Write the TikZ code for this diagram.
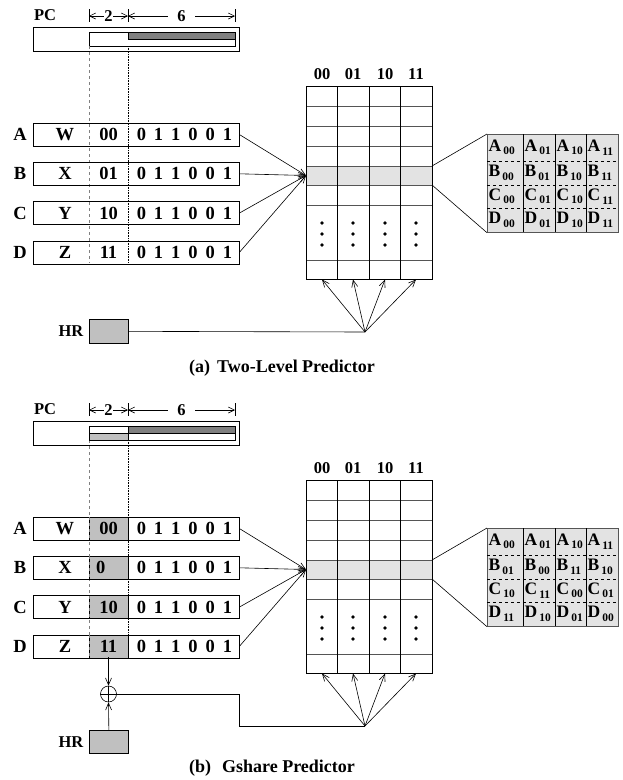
\documentclass[tikz,border=0pt]{standalone}
\usepackage{fontspec}
\setmainfont{Liberation Serif}
\usetikzlibrary{arrows.meta}

\definecolor{darkbar}{HTML}{808080}
\definecolor{midgray}{HTML}{C0C0C0}
\definecolor{lightcell}{HTML}{E3E3E3}
\definecolor{edgegray}{HTML}{555555}

\newcommand{\fsz}[1]{\fontsize{#1}{#1}\selectfont\bfseries}
\newcommand{\bitstr}{0\hskip8pt 1\hskip8pt 1\hskip8pt 0\hskip8pt 0\hskip8pt 1}
\newcommand{\cellent}[2]{{\fsz{17.5}#1}\raisebox{-3.5pt}{\fsz{11.5}\,#2}}

\tikzset{
  lbl/.style={inner sep=0pt, font=\fsz{16.5}},
  big/.style={inner sep=0pt, font=\fsz{18.5}},
  thinln/.style={line width=0.7pt},
  tip/.style={-{Straight Barb[length=7pt,width=6pt]}, line width=0.6pt},
  dimarr/.style={{Straight Barb[length=6pt,width=6pt]}-{Straight Barb[length=6pt,width=6pt]}, line width=0.6pt},
  boxnode/.style={draw, line width=0.7pt, inner sep=0pt, anchor=north west},
}

% parts shared by both predictors: PC, address rows, pattern table
\newcommand{\panelbase}{%
  \node[lbl] (pc) at (45,15) {PC};
  \draw[line width=0.6pt] (89,9) -- (89,22) (128,9) -- (128,22) (235,9) -- (235,22);
  \coordinate (d0) at (89,16); \coordinate (d1) at (128,16); \coordinate (d2) at (235,16);
  \draw[dimarr] (d0) -- node[fill=white, inner sep=0.5pt, font=\fsz{16.5}] (w2) {2} (d1);
  \draw[dimarr] (d1) -- node[fill=white, inner xsep=9pt, inner ysep=1pt, font=\fsz{16.5}] (w6) {6} (d2);
  \node[boxnode, minimum width=206pt, minimum height=24pt] (pcbox) at (33,27) {};
  \draw[line width=0.7pt, fill=white] (89,32) rectangle (235,46);
  \fill[darkbar] (128,32) rectangle (235,39);
  \draw[line width=0.7pt] (128,32) rectangle (235,39);
  % index bit guides
  \draw[dashed, gray, line width=0.7pt] (89,46) -- (89,263);
  \draw[densely dotted, line width=0.6pt] (128,46) -- (128,263);
  % address rows
  \foreach \L/\W/\i in {A/W/0,B/X/1,C/Y/2,D/Z/3}{
    \pgfmathsetmacro\yc{134.5+39.3*\i}
    \node[draw, line width=0.7pt, inner sep=0pt, minimum width=206pt, minimum height=23pt] (row\i) at (136,\yc) {};
    \node[big] (lab\i) at (20,\yc) {\L};
    \node[big] (nm\i) at (65,\yc) {\W};
    \node[big] (bits\i) at (184.5,\yc) {\bitstr};
  }
  % pattern history table
  \fill[lightcell] (306,166) rectangle (432,185);
  \foreach \y in {106,126,146,166,185,205,260}{
    \draw[edgegray, line width=0.7pt] (306,\y) -- (432,\y);
  }
  \foreach \x in {337.5,369,400.5}{
    \draw[line width=0.7pt] (\x,86) -- (\x,279);
  }
  \node[boxnode, minimum width=126pt, minimum height=193pt] (pht) at (306,86) {};
  \foreach \c/\x in {00/322,01/353,10/385,11/416}{
    \node[lbl] (hd\c) at (\x,74) {\c};
    \foreach \y in {223,234,245}{ \fill (\x,\y) circle (1.8pt); }
    \coordinate (col\c) at (\x,279.5);
  }
  \coordinate (tin) at (306,175.5);
  \foreach \i in {0,1,2,3}{ \draw[tip] (row\i.east) -- (tin); }
  % zoomed row of counters
  \coordinate (hltop) at (432,166);
  \coordinate (hlbot) at (432,185);
  \node[boxnode, draw=edgegray, fill=lightcell, minimum width=131pt, minimum height=98pt] (sm) at (487,134) {};
  \draw[line width=0.6pt] (hltop) -- (sm.north west) (hlbot) -- (sm.south west);
  \foreach \x in {523,555,586}{ \draw[line width=0.7pt] (\x,134) -- (\x,232); }
  \foreach \y in {161,185,208}{ \draw[dashed, line width=0.6pt] (487,\y) -- (618,\y); }
  % history register selects a column
  \coordinate (apex) at (365,332);
  \foreach \c in {00,01,10,11}{ \draw[tip] (apex) -- (col\c); }
}

% fills the 4x4 counter row: entries given row by row
\newcommand{\smallcells}[4]{%
  \foreach \L/\codes/\yc in {A/{#1}/147.5,B/{#2}/173,C/{#3}/196.5,D/{#4}/220}{
    \foreach \s/\x [count=\k] in \codes{
      \node[anchor=west, inner sep=0pt] (ce\L\k) at (\x,\yc) {\cellent{\L}{\s}};
    }
  }
}

\begin{document}
\begin{tikzpicture}[x=1pt,y=-1pt]
  \useasboundingbox (0,0) rectangle (623,780);

  % (a) two-level predictor
  \begin{scope}[name prefix=a-]
    \panelbase
    \foreach \s/\i in {00/0,01/1,10/2,11/3}{
      \node[big] (code\i) at (108.5,134.5+39.3*\i) {\s};
    }
    \smallcells{00/488.5,01/524.5,10/556.5,11/587.5}{00/488.5,01/524.5,10/556.5,11/587.5}{00/488.5,01/524.5,10/556.5,11/587.5}{00/488.5,01/524.5,10/556.5,11/587.5}
    \node[boxnode, fill=midgray, minimum width=39pt, minimum height=24pt] (hr) at (89,319) {};
    \node[lbl] (hrlab) at (71,331) {HR};
    \draw[line width=0.6pt] (hr.east) -- (apex);
    \node[inner sep=0pt, font=\fsz{18}] (cap) at (282,368) {(a)\hskip7pt Two-Level Predictor};
  \end{scope}

  % (b) gshare predictor
  \begin{scope}[yshift=-394pt, name prefix=b-]
    \panelbase
    \fill[midgray] (89,39) rectangle (128,46);
    \draw[line width=0.7pt] (89,39) rectangle (128,46);
    \foreach \i in {0,1,2,3}{
      \pgfmathsetmacro\yt{123+39.3*\i}
      \draw[line width=0.7pt, fill=midgray] (89,\yt) rectangle (128,\yt+23);
      \draw[dashed, gray, line width=0.7pt] (89,\yt) -- (89,\yt+23);
    }
    \node[big] (code0) at (108.5,134.5) {00};
    \node[big, anchor=west] (code1) at (96,173.8) {0};
    \node[big] (code2) at (108.5,213.1) {10};
    \node[big] (code3) at (108.5,252.4) {11};
    \smallcells{00/488.5,01/524.5,10/556.5,11/587.5}{01/488.5,00/524.5,11/556.5,10/587.5}{10/488.5,11/524.5,00/556.5,01/587.5}{11/488.5,10/524.5,01/556.5,00/587.5}
    \node[boxnode, fill=midgray, minimum width=39pt, minimum height=23pt] (hr) at (89,336) {};
    \node[lbl] (hrlab) at (71,348) {HR};
    \node[draw, circle, line width=0.6pt, minimum size=16pt, inner sep=0pt] (xor) at (108.5,300) {};
    \draw[line width=0.6pt] (xor.north) -- (xor.south) (xor.west) -- (xor.east);
    \coordinate (dout) at (108.5,263);
    \coordinate (bend) at (239,300);
    \draw[tip] (dout) -- (xor.north);
    \draw[tip] (hr.north) -- (xor.south);
    \draw[line width=0.6pt] (xor.east) -- (bend) |- (apex);
    \node[inner sep=0pt, font=\fsz{18}] (cap) at (272,374) {(b)\hskip11pt Gshare Predictor};
  \end{scope}
\end{tikzpicture}
\end{document}
